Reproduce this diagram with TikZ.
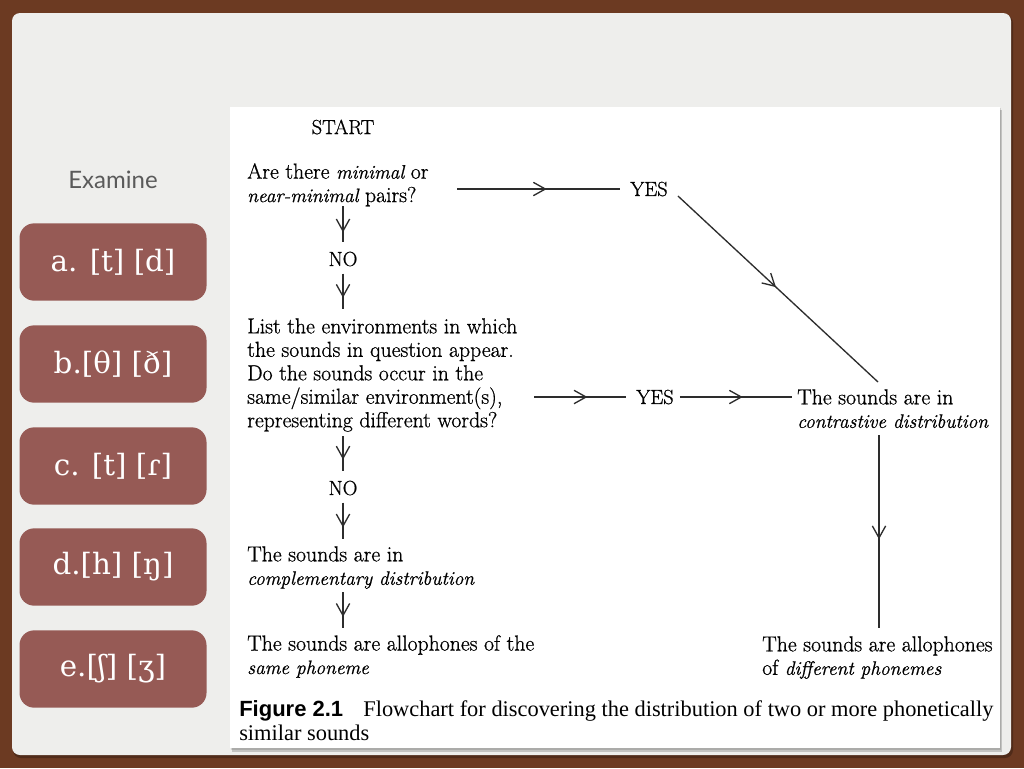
\documentclass[tikz,border=0pt]{standalone}
\usepackage{fontspec}
\setmainfont{Latin Modern Roman}[FakeBold=0.8]
\newfontfamily\ipafont{DejaVu Serif}
\newfontfamily\examfont{Lato}
\newfontfamily\capsans{Liberation Sans}
\newfontfamily\capserif{Liberation Serif}
\newcommand\emx[1]{{\fontsize{14.6}{17.6}\selectfont\itshape #1}}
\usetikzlibrary{arrows.meta,decorations.markings,calc}
\definecolor{wood}{RGB}{108,58,34}
\definecolor{paper}{RGB}{238,238,236}
\definecolor{btn}{RGB}{150,90,85}
\definecolor{ink}{RGB}{45,45,45}
\definecolor{exam}{RGB}{90,90,90}
\begin{document}
\begin{tikzpicture}[x=0.75pt,y=-0.75pt,
  btnbox/.style={fill=btn, rounded corners=11pt, minimum width=140.25pt, minimum height=58pt, text=white, font=\ipafont\fontsize{22}{24}\selectfont, inner sep=0},
  txt/.style={inner sep=0, align=left, text=black, font=\fontsize{16.3}{17.6}\selectfont},
  lbl/.style={inner sep=0, text=black, font=\fontsize{15.3}{17.6}\selectfont},
  conn/.style={color=ink, line width=1pt},
  midarrow/.style={conn, decoration={markings, mark=at position #1 with {\arrow{Straight Barb[length=9pt,width=10pt,line width=1pt]}}}, postaction={decorate}},
]
\useasboundingbox (0,0) rectangle (1024,768);
% background
\fill[wood] (0,0) rectangle (1024,768);
\fill[black, opacity=0.25, rounded corners=6pt] (13,15) rectangle (1013,758);
\fill[paper, rounded corners=6pt] (12,13) rectangle (1011,755);
% figure sheet
\fill[black, opacity=0.18] (232,110) rectangle (1002,752);
\fill[black, opacity=0.12] (231,108) rectangle (1001,750);
\fill[white] (230,107) rectangle (1000,748);

% left column
\node[font=\examfont\fontsize{18}{20}\selectfont, text=exam] (exam) at (113,180) {Examine};
\node[btnbox] (ba) at (113,262) {a. [t] [d]};
\node[btnbox] (bb) at (113,364) {b.[θ] [ð]};
\node[btnbox] (bc) at (113,466) {c. [t] [ɾ]};
\node[btnbox] (bd) at (113,567) {d.[h] [ŋ]};
\node[btnbox] (be) at (113,669) {e.[ʃ] [ʒ]};

% flowchart
\node[lbl] (start) at (343,127) {START};
\node[txt, anchor=north west] (q1) at (247,163) {Are there \emx{minimal} or\\\emx{near-minimal} pairs?};
\node[lbl] (yes1) at (649,189) {YES};
\node[lbl] (no1) at (343,259) {NO};
\node[txt, anchor=north west] (q2) at (247,318) {List the environments in which\\the sounds in question appear.\\Do the sounds occur in the\\same/similar environment(s),\\representing different words?};
\node[lbl] (yes2) at (655,397) {YES};
\node[txt, anchor=north west] (c) at (797,389) {The sounds are in\\\emx{contrastive distribution}};
\node[lbl] (no2) at (343,488) {NO};
\node[txt, anchor=north west] (comp) at (247,546) {The sounds are in\\\emx{complementary distribution}};
\node[txt, anchor=north west] (same) at (247,635) {The sounds are allophones of the\\\emx{same phoneme}};
\node[txt, anchor=north west] (diff) at (762,636) {The sounds are allophones\\of \emx{different phonemes}};

% connectors
\draw[midarrow=0.55] ($(yes1.west)+(-173,0)$) -- ($(yes1.west)+(-10,0)$);
\draw[midarrow=0.49] ($(yes1.east)+(10,7)$) -- ($(c.north west)+(81,-7)$);
\draw[midarrow=0.72] ($(no1.north)+(0,-45)$) -- ($(no1.north)+(0,-9)$);
\draw[midarrow=0.69] ($(no1.south)+(0,7)$) -- ($(no1.south)+(0,42)$);
\draw[midarrow=0.58] ($(yes2.west)+(-102,0)$) -- ($(yes2.west)+(-10,0)$);
\draw[midarrow=0.56] ($(yes2.east)+(6,0)$) -- ($(c.west|-yes2)+(-5,0)$);
\draw[midarrow=0.54] ($(diff.north west)+(117,-201)$) -- ($(diff.north west)+(117,-8)$);
\draw[midarrow=0.66] ($(no2.north)+(0,-44)$) -- ($(no2.north)+(0,-9)$);
\draw[midarrow=0.69] ($(no2.south)+(0,7)$) -- ($(no2.south)+(0,43)$);
\draw[midarrow=0.69] ($(no2|-same.north)+(0,-43)$) -- ($(no2|-same.north)+(0,-7)$);

% caption
\node[inner sep=0, anchor=base west, align=left, font=\capserif\fontsize{16.8}{18}\selectfont] (cap) at (239,740)
  {{\capsans\bfseries\fontsize{16.5}{18}\selectfont Figure 2.1}\hspace{0.9em}Flowchart for discovering the distribution of two or more phonetically\\\capserif similar sounds};
\end{tikzpicture}
\end{document}
